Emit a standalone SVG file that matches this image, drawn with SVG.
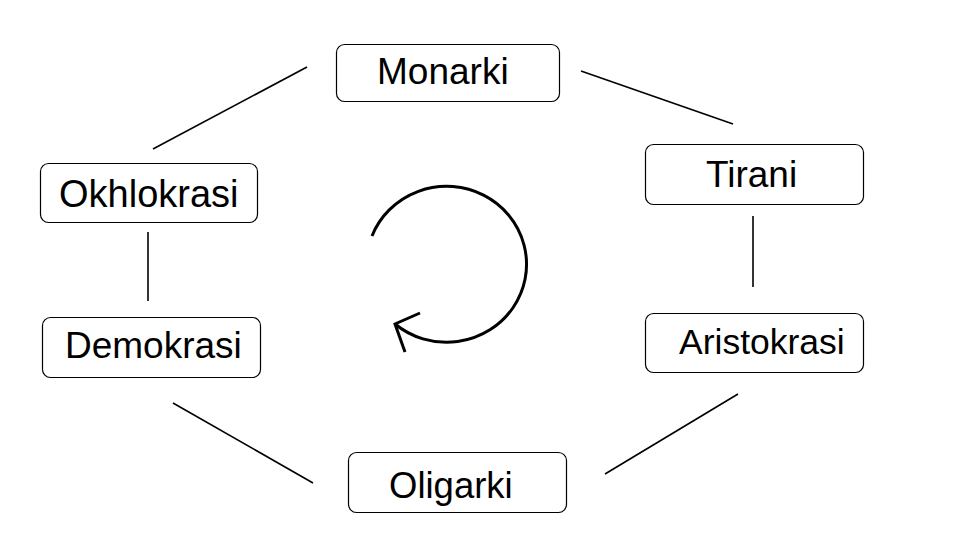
<svg xmlns="http://www.w3.org/2000/svg" width="954" height="544" viewBox="0 0 954 544">
<style>
.box{fill:#fff;stroke:#000;stroke-width:1.2}
.lbl{font-family:"Liberation Sans",Arial,sans-serif;font-size:37px;fill:#000}
.conn line{stroke:#000;stroke-width:1.6}
.cyc{fill:none;stroke:#000;stroke-width:3}
</style>
<rect width="954" height="544" fill="#fff"/>
<g class="conn" id="connectors">
<line x1="581" y1="71" x2="733" y2="124"/>
<line x1="753" y1="216" x2="753" y2="287"/>
<line x1="738" y1="394" x2="605" y2="474"/>
<line x1="313" y1="483" x2="173" y2="403"/>
<line x1="148" y1="301" x2="148" y2="232"/>
<line x1="153" y1="149" x2="307" y2="67"/>
</g>
<g id="cycle">
<path class="cyc" d="M372,236 A80,78 0 1,1 395,324"/>
<polyline class="cyc" points="420,313 395,324 405,352"/>
</g>
<g id="monarki"><rect class="box" x="336.5" y="44.5" width="223" height="57" rx="8"/><text class="lbl" x="377" y="84">Monarki</text></g>
<g id="tirani"><rect class="box" x="645.5" y="144.5" width="218" height="60" rx="8"/><text class="lbl" x="706" y="187">Tirani</text></g>
<g id="aristokrasi"><rect class="box" x="645.5" y="313.5" width="218" height="59" rx="8"/><text class="lbl" x="679" y="354" style="font-size:35.5px">Aristokrasi</text></g>
<g id="oligarki"><rect class="box" x="348.5" y="452.5" width="218" height="60" rx="8"/><text class="lbl" x="389" y="498" style="font-size:36.5px">Oligarki</text></g>
<g id="demokrasi"><rect class="box" x="42.5" y="317.5" width="218" height="60" rx="8"/><text class="lbl" x="65" y="358">Demokrasi</text></g>
<g id="okhlokrasi"><rect class="box" x="40.5" y="163.5" width="217" height="59" rx="8"/><text class="lbl" x="59" y="207" style="font-size:38px">Okhlokrasi</text></g>
</svg>
